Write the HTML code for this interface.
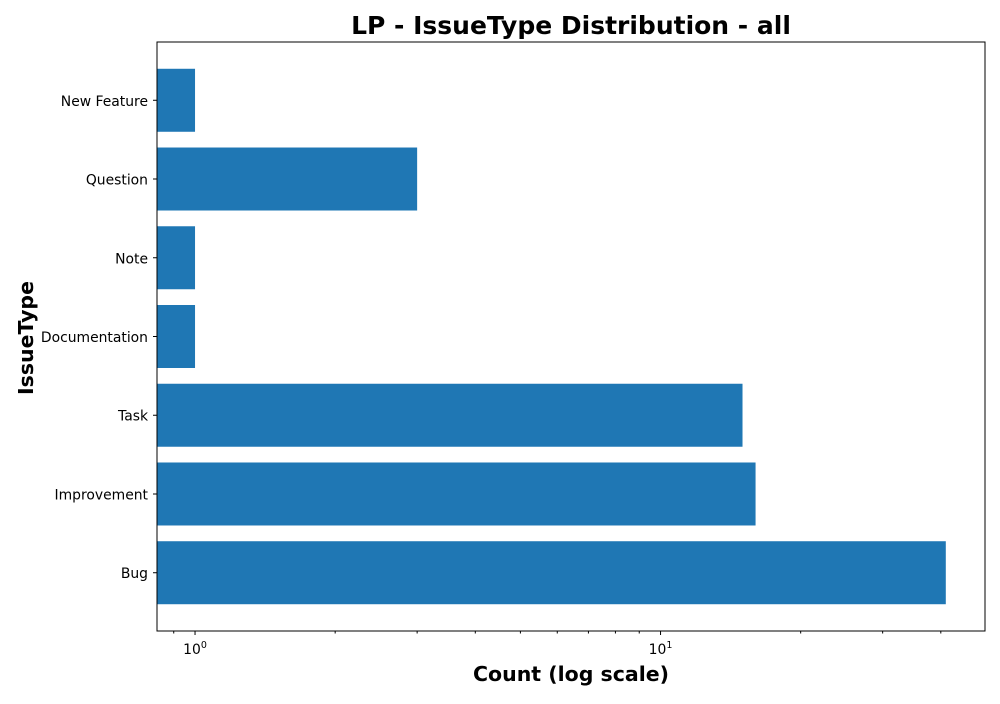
<!DOCTYPE html>
<html><head><meta charset="utf-8"><style>
body{margin:0;background:#fff;font-family:"DejaVu Sans","Liberation Sans",sans-serif}
</style></head><body>
<svg width="1000" height="700" font-family="DejaVu Sans, Liberation Sans, sans-serif">
<g id="plot"></g>
</svg>
<script>
const categories=["Bug","Improvement","Task","Documentation","Note","Question","New Feature"];
const counts=[41,16,15,1,1,3,1];
const xTicks=[1,10];
const xTickExp=["0","1"];
const L=157,R=985,T=42,B=631;
const lmin=-0.0817,lmax=1.697;
const x=v=>L+(Math.log10(v)-lmin)/(lmax-lmin)*(R-L);
const ymin=-0.74,ymax=categories.length-1+0.74;
const y=v=>B-(v-ymin)/(ymax-ymin)*(B-T);
const step=y(0)-y(1);
const g=document.getElementById('plot');
const NS="http://www.w3.org/2000/svg";
function mk(t,a,txt){const e=document.createElementNS(NS,t);for(const k in a)e.setAttribute(k,a[k]);if(txt!==undefined)e.textContent=txt;g.appendChild(e);return e;}
counts.forEach((c,i)=>{
 const r=mk('rect',{x:L,y:y(i)-step*0.4,width:x(c)-L,height:step*0.8,fill:'#1f77b4'});
 
 
 mk('line',{x1:L-4,x2:L,y1:y(i),y2:y(i),stroke:'#000'});
 const lb=mk('text',{x:L-9,y:y(i)+5.5,'text-anchor':'end','font-size':13.9},categories[i]);
 
 
});
xTicks.forEach((v,i)=>{
 mk('line',{x1:x(v),x2:x(v),y1:B,y2:B+4,stroke:'#000'});
 const t=mk('text',{x:x(v),y:B+23,'text-anchor':'middle','font-size':13.9});
 
 
 t.innerHTML='10<tspan dy="-6" font-size="9.5">'+xTickExp[i]+'</tspan>';
});
for(let d=-1;d<=1;d++)for(let m=2;m<=9;m++){const v=m*Math.pow(10,d);const px=x(v);if(px>=L&&px<=R)mk('line',{x1:px,x2:px,y1:B,y2:B+2.5,stroke:'#000'});}
mk('rect',{x:L,y:T,width:R-L,height:B-T,fill:'none',stroke:'#000','stroke-width':1});
const tt=mk('text',{x:571,y:34,'text-anchor':'middle','font-size':25,'font-weight':'bold'},'LP - IssueType Distribution - all');

const xt=mk('text',{x:571,y:681,'text-anchor':'middle','font-size':20.5,'font-weight':'bold'},'Count (log scale)');

const yt=mk('text',{x:0,y:0,'text-anchor':'middle','font-size':20.5,'font-weight':'bold',transform:'translate(33,338) rotate(-90)'},'IssueType');

</script>
</body></html>
